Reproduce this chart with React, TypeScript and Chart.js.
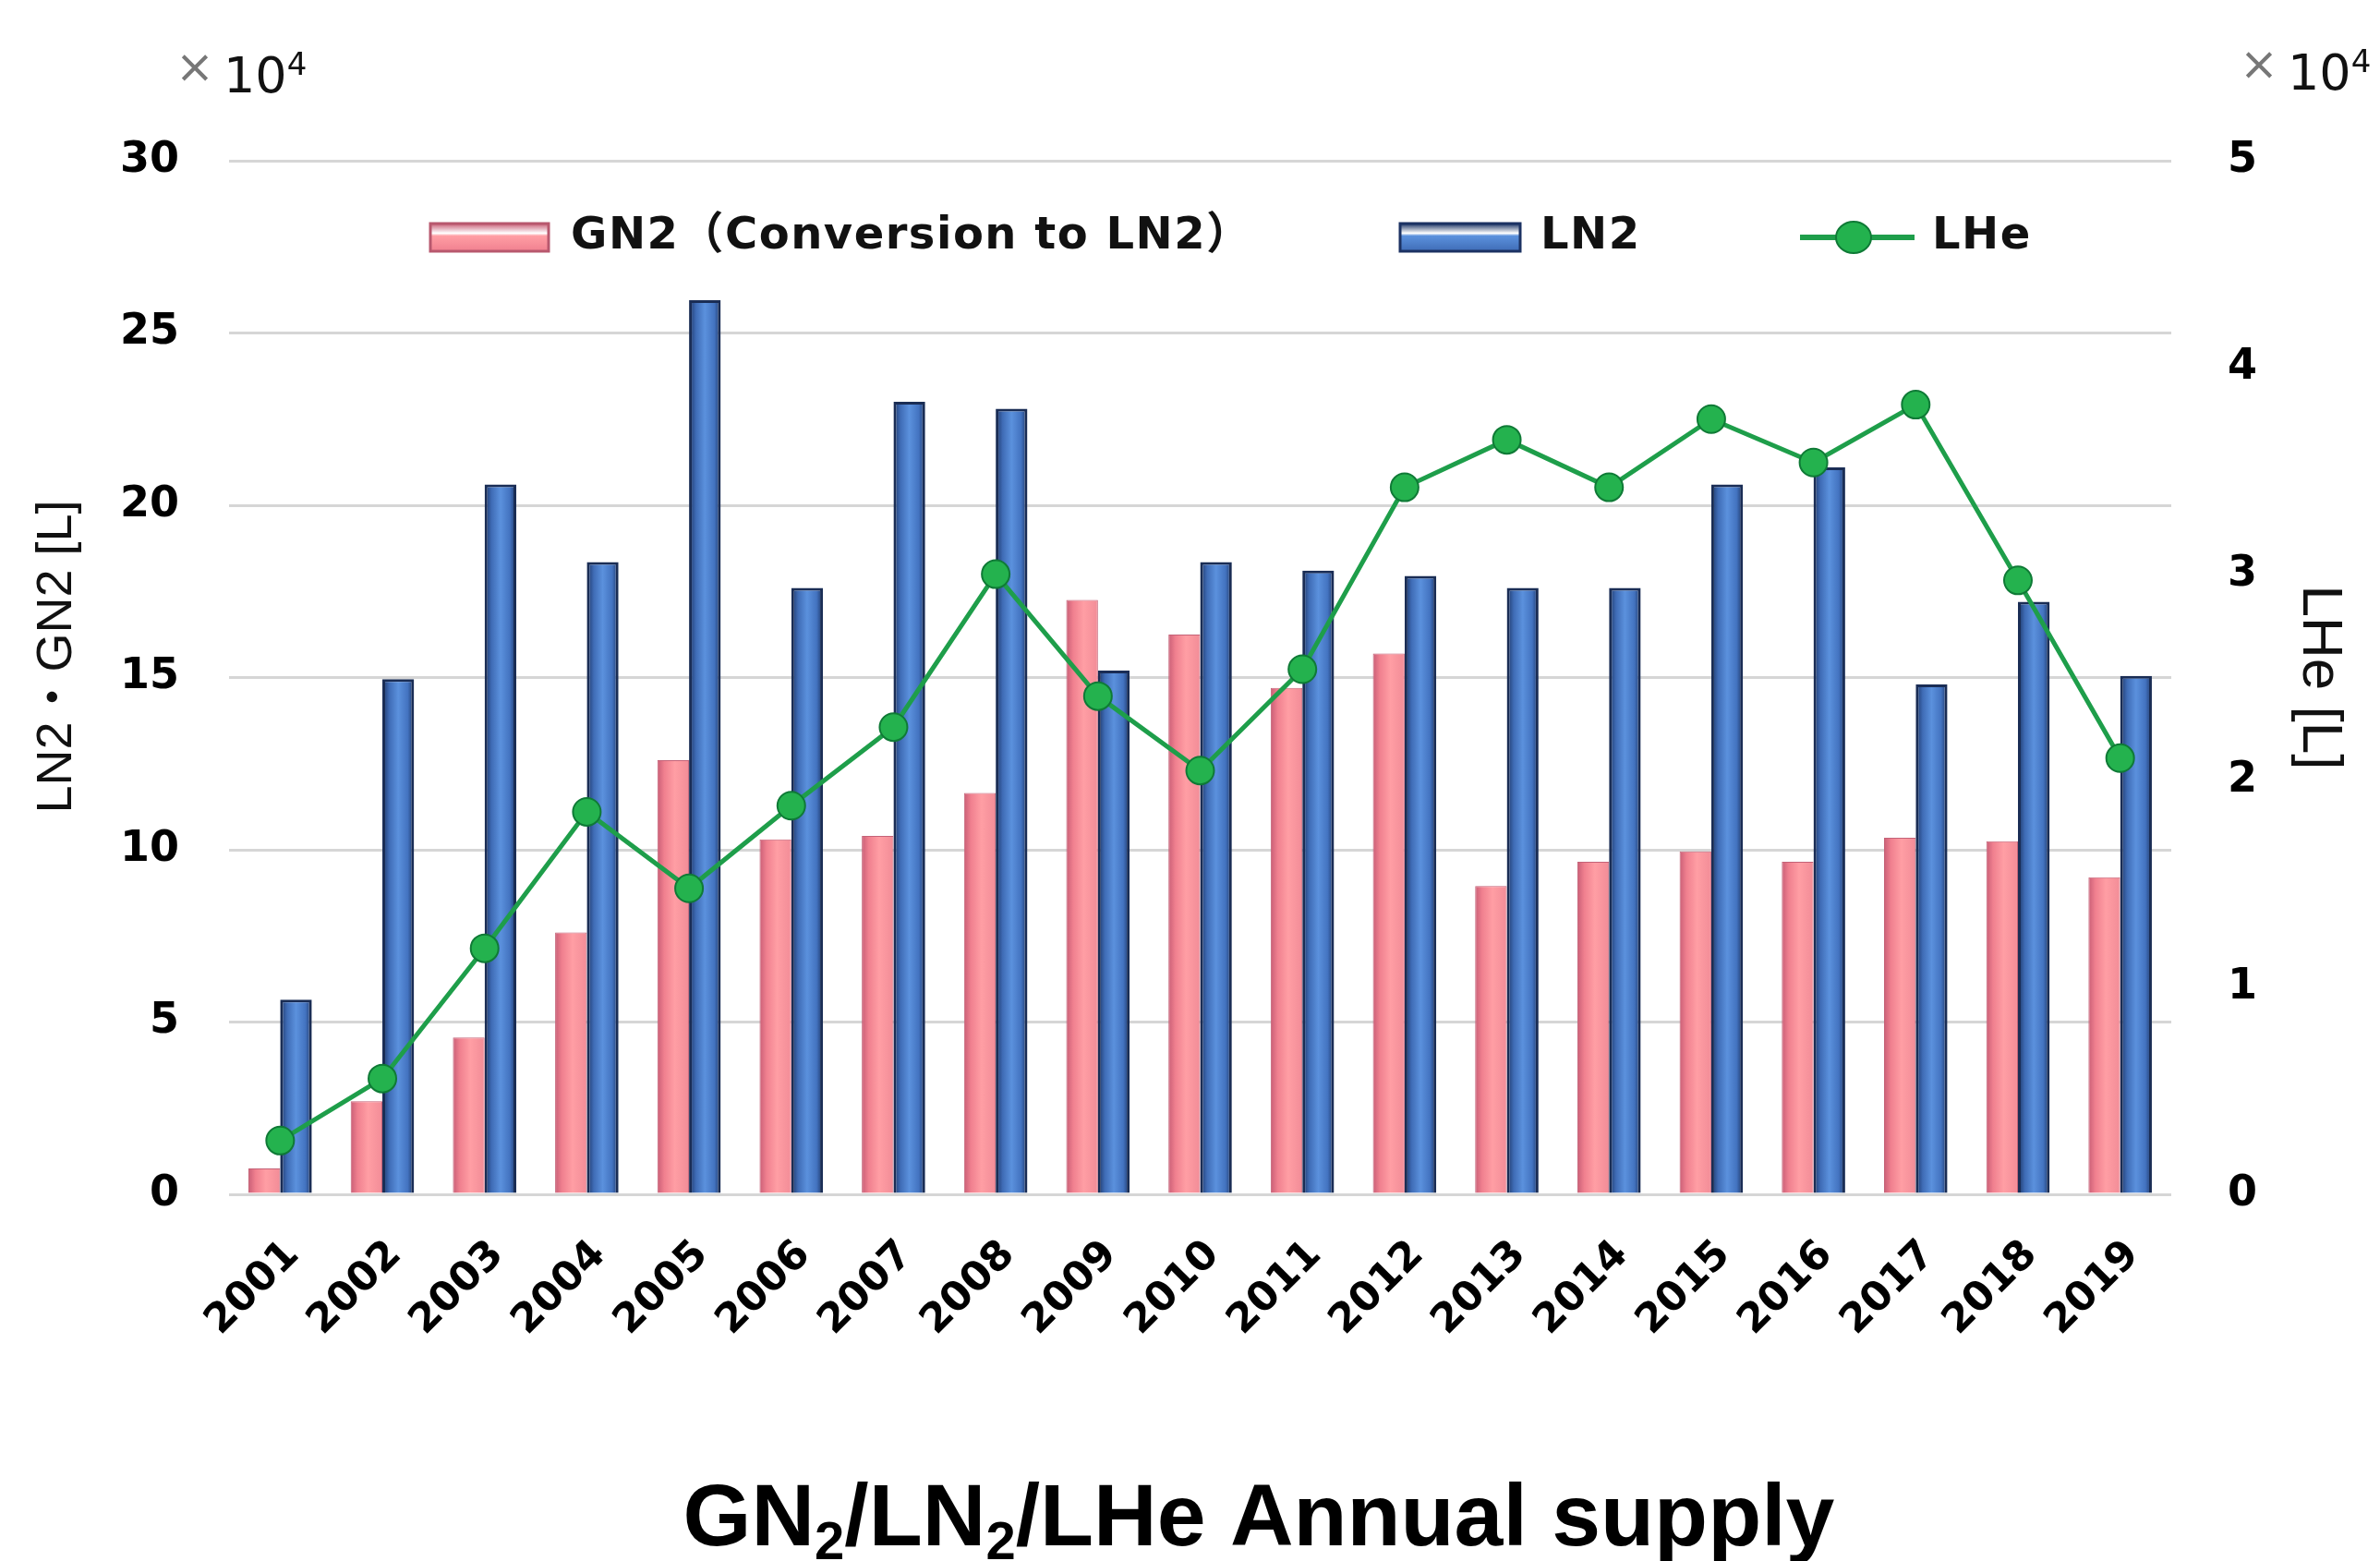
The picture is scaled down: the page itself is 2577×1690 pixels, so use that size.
import React, { useEffect, useRef } from 'react';
import { Chart, registerables } from 'chart.js';

Chart.register(...registerables);

// ---- data ----
const years = ['2001', '2002', '2003', '2004', '2005', '2006', '2007', '2008', '2009', '2010', '2011', '2012', '2013', '2014', '2015', '2016', '2017', '2018', '2019'];
const gn2Values = [0.75, 2.7, 4.55, 7.6, 12.6, 10.3, 10.4, 11.65, 17.25, 16.25, 14.7, 15.7, 8.95, 9.65, 9.95, 9.65, 10.35, 10.25, 9.2];
const ln2Values = [5.65, 14.95, 20.6, 18.35, 25.95, 17.6, 23.0, 22.8, 15.2, 18.35, 18.1, 17.95, 17.6, 17.6, 20.6, 21.1, 14.8, 17.2, 15.05];
const lheValues = [0.26, 0.56, 1.19, 1.85, 1.48, 1.88, 2.26, 3.0, 2.41, 2.05, 2.54, 3.42, 3.65, 3.42, 3.75, 3.54, 3.82, 2.97, 2.11];
const leftMax = 30;
const leftStep = 5;
const rightMax = 5;
const rightStep = 1;
const seriesNames = ['GN2（Conversion to LN2）', 'LN2', 'LHe'];
const leftTitle = '   LN2・GN2 [L]';
const rightTitle = 'LHe [L]';

const W = 2577;
const H = 1690;
const AREA = { left: 248, right: 2351, top: 174, bottom: 1293 };
const CAT_PCT = 0.62;

const pinkStops: [number, string][] = [[0, '#C95E76'], [0.22, '#F0808F'], [0.55, '#FF9EA4'], [1, '#F28C97']];
const blueStops: [number, string][] = [[0, '#1C3566'], [0.22, '#3F6CB6'], [0.5, '#5B91DD'], [0.8, '#4373C0'], [1, '#1C3566']];

const tickFont = "'DejaVu Sans', 'Noto Sans CJK JP', sans-serif";
const titleFont = "'Liberation Sans', 'Noto Sans CJK JP', Arial, sans-serif";

function barGradient(stops: [number, string][], side: number) {
  return (c: any) => {
    const chart = c.chart;
    const xs = chart.scales && chart.scales.x;
    if (!xs || c.type !== 'data' || !isFinite(xs.left) || !isFinite(xs.right)) return stops[2][1];
    const catW = (xs.right - xs.left) / years.length;
    const bw = (catW * CAT_PCT) / 2;
    const center = xs.getPixelForValue(c.dataIndex);
    const x0 = side === 0 ? center - bw : center;
    if (!isFinite(x0)) return stops[2][1];
    const g = chart.ctx.createLinearGradient(x0, 0, x0 + bw, 0);
    stops.forEach(([o, col]) => g.addColorStop(o, col));
    return g;
  };
}

function drawSwatch(ctx: CanvasRenderingContext2D, x: number, y: number, w: number, h: number, stops: [number, string][], border: string) {
  const g = ctx.createLinearGradient(0, y, 0, y + h);
  g.addColorStop(0, stops[0][1]);
  g.addColorStop(0.35, '#ffffff');
  g.addColorStop(0.45, stops[2][1]);
  g.addColorStop(1, stops[1][1]);
  ctx.fillStyle = g;
  ctx.fillRect(x, y, w, h);
  ctx.lineWidth = 3;
  ctx.strokeStyle = border;
  ctx.strokeRect(x, y, w, h);
}

function drawX10(ctx: CanvasRenderingContext2D, x: number, baseline: number) {
  ctx.textAlign = 'left';
  ctx.textBaseline = 'middle';
  ctx.fillStyle = '#777777';
  ctx.font = `50px ${tickFont}`;
  ctx.fillText('×', x - 2, baseline - 24);
  ctx.textBaseline = 'alphabetic';
  ctx.fillStyle = '#111111';
  ctx.font = `54px ${tickFont}`;
  ctx.fillText('10', x + 50, baseline);
  const w10 = ctx.measureText('10').width;
  ctx.font = `34px ${tickFont}`;
  ctx.fillText('4', x + 50 + w10, baseline - 19);
}

const decorPlugin = {
  id: 'decor',
  afterDatasetsDraw(chart: any) {
    const ctx: CanvasRenderingContext2D = chart.ctx;
    ctx.save();
    const cy = 257;
    drawSwatch(ctx, 466, cy - 15, 128, 30, pinkStops, '#B8586E');
    drawSwatch(ctx, 1516, cy - 15, 130, 30, blueStops, '#1C3263');
    // LHe icon
    ctx.strokeStyle = '#1E9E4A';
    ctx.lineWidth = 6;
    ctx.beginPath();
    ctx.moveTo(1949, cy);
    ctx.lineTo(2073, cy);
    ctx.stroke();
    ctx.beginPath();
    ctx.ellipse(2007, cy, 19, 17, 0, 0, Math.PI * 2);
    ctx.fillStyle = '#23B24E';
    ctx.fill();
    ctx.lineWidth = 2;
    ctx.strokeStyle = '#0F7A36';
    ctx.stroke();
    ctx.fillStyle = '#111111';
    ctx.font = `bold 48px ${tickFont}`;
    (ctx as any).letterSpacing = '1.5px';
    ctx.textAlign = 'left';
    ctx.textBaseline = 'middle';
    ctx.fillText(seriesNames[0], 618, cy);
    ctx.fillText(seriesNames[1], 1668, cy);
    ctx.fillText(seriesNames[2], 2092, cy);
    (ctx as any).letterSpacing = '0px';
    ctx.restore();
  },
  afterDraw(chart: any) {
    const ctx: CanvasRenderingContext2D = chart.ctx;
    ctx.save();
    drawX10(ctx, 192, 100);
    drawX10(ctx, 2427, 97);
    // bottom title with subscripts
    const pieces: { t: string; sub: boolean }[] = [
      { t: 'GN', sub: false },
      { t: '2', sub: true },
      { t: '/LN', sub: false },
      { t: '2', sub: true },
      { t: '/LHe Annual supply', sub: false },
    ];
    const mainFont = `bold 95px ${titleFont}`;
    const subFont = `bold 58px ${titleFont}`;
    let total = 0;
    const widths = pieces.map((p) => {
      ctx.font = p.sub ? subFont : mainFont;
      const w = ctx.measureText(p.t).width;
      total += w;
      return w;
    });
    let x = 1363 - total / 2;
    const base = 1673;
    ctx.fillStyle = '#000000';
    ctx.textAlign = 'left';
    ctx.textBaseline = 'alphabetic';
    pieces.forEach((p, i) => {
      ctx.font = p.sub ? subFont : mainFont;
      ctx.fillText(p.t, x, p.sub ? base + 15 : base);
      x += widths[i];
    });
    ctx.restore();
  },
};

export default function App() {
  const ref = useRef<HTMLCanvasElement>(null);
  useEffect(() => {
    document.body.style.margin = '0';
    document.body.style.overflow = 'hidden';
    document.documentElement.style.overflow = 'hidden';
    const canvas = ref.current;
    if (!canvas) return;
    const chart = new Chart(canvas, {
      type: 'bar',
      data: {
        labels: years,
        datasets: [
          {
            type: 'bar',
            label: seriesNames[0],
            data: gn2Values,
            yAxisID: 'y',
            order: 1,
            backgroundColor: barGradient(pinkStops, 0) as any,
            borderColor: '#C46277',
            borderWidth: 1,
            categoryPercentage: CAT_PCT,
            barPercentage: 1.0,
          },
          {
            type: 'bar',
            label: seriesNames[1],
            data: ln2Values,
            yAxisID: 'y',
            order: 1,
            backgroundColor: barGradient(blueStops, 1) as any,
            borderColor: '#1A2D55',
            borderWidth: 3,
            categoryPercentage: CAT_PCT,
            barPercentage: 1.0,
          },
          {
            type: 'line',
            label: seriesNames[2],
            data: lheValues,
            yAxisID: 'y1',
            order: 0,
            borderColor: '#1E9E4A',
            borderWidth: 5,
            pointRadius: 15,
            pointBackgroundColor: '#24B24E',
            pointBorderColor: '#0F7A36',
            pointBorderWidth: 2,
            tension: 0,
            fill: false,
          },
        ] as any,
      },
      options: {
        responsive: false,
        animation: false,
        devicePixelRatio: 1,
        layout: { padding: { top: AREA.top, left: 0, right: 0, bottom: 0 } },
        plugins: {
          legend: { display: false },
          title: { display: false },
          tooltip: { enabled: false },
        },
        scales: {
          x: {
            offset: true,
            grid: { display: false, drawTicks: false },
            border: { display: false },
            ticks: {
              autoSkip: false,
              minRotation: 45,
              maxRotation: 45,
              padding: 40,
              labelOffset: 14,
              color: '#000000',
              font: { family: tickFont, size: 44, weight: 'bold' },
            },
            afterFit: (s: any) => {
              s.height = H - AREA.bottom;
            },
          },
          y: {
            position: 'left',
            min: 0,
            max: leftMax,
            ticks: {
              stepSize: leftStep,
              padding: 54,
              color: '#000000',
              font: { family: tickFont, size: 46, weight: 'bold' },
            },
            grid: { color: '#D6D6D6', lineWidth: 3, drawTicks: false },
            border: { display: false },
            title: {
              display: true,
              text: leftTitle,
              color: '#111111',
              font: { family: titleFont, size: 54, lineHeight: 1 },
              padding: { top: 35, bottom: 0 },
            },
            afterFit: (s: any) => {
              s.width = AREA.left;
            },
          },
          y1: {
            position: 'right',
            min: 0,
            max: rightMax,
            ticks: {
              stepSize: rightStep,
              padding: 61,
              color: '#000000',
              font: { family: tickFont, size: 46, weight: 'bold' },
            },
            grid: { display: false, drawTicks: false },
            border: { display: false },
            title: {
              display: true,
              text: rightTitle,
              color: '#111111',
              font: { family: titleFont, size: 62, lineHeight: 1 },
              padding: { top: 35, bottom: 0 },
            },
            afterFit: (s: any) => {
              s.width = W - AREA.right;
            },
          },
        },
      } as any,
      plugins: [decorPlugin as any],
    });
    return () => chart.destroy();
  }, []);

  return (
    <div style={{ width: W, height: H, overflow: 'hidden', position: 'relative' }}>
      <canvas ref={ref} width={W} height={H} style={{ display: 'block', width: W, height: H }} />
    </div>
  );
}
